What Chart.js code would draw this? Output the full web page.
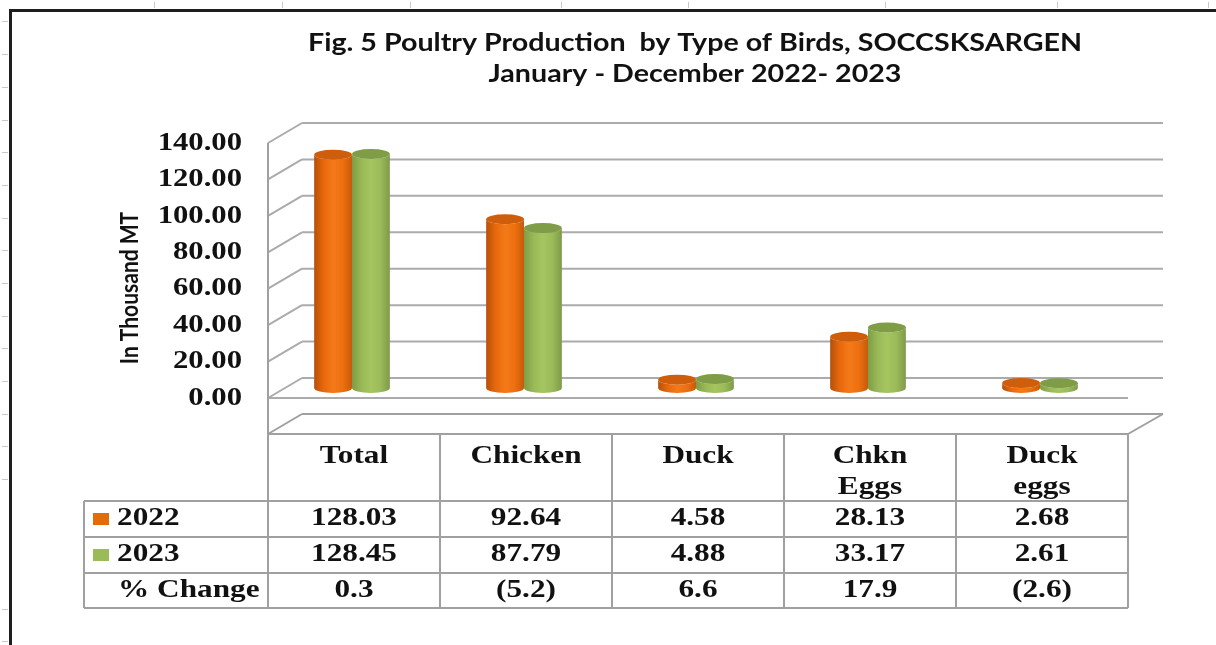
<!DOCTYPE html>
<html>
<head>
<meta charset="utf-8">
<title>Poultry Production by Type of Birds</title>
<script src="https://cdn.jsdelivr.net/npm/chart.js@4.4.1/dist/chart.umd.min.js"></script>
<style>
  body { margin: 0; background: #fff; }
  #chart { display: block; }
</style>
</head>
<body>
<canvas id="chart" width="1216" height="645"></canvas>
<script>
// data
const categories = ['Total', 'Chicken', 'Duck', ['Chkn', 'Eggs'], ['Duck', 'eggs']];
const prod2022 = [128.03, 92.64, 4.58, 28.13, 2.68];
const prod2023 = [128.45, 87.79, 4.88, 33.17, 2.61];
const pctChange = ['0.3', '(5.2)', '6.6', '17.9', '(2.6)'];
const seriesNames = ['2022', '2023'];
const changeLabel = '% Change';
const yTicks = [0, 20, 40, 60, 80, 100, 120, 140];
const titleLines = ['Fig. 5 Poultry Production  by Type of Birds, SOCCSKSARGEN', 'January - December 2022- 2023'];
const yTitle = 'In Thousand MT';

const looks = [
    { stops: ['#b4500a', '#e8680c', '#f47a18', '#ee7010', '#c65b0a'], cap: '#cf5e0c', key: '#e36c0a' },
    { stops: ['#7e9c46', '#98b956', '#a4c560', '#9bbb59', '#7f9a48'], cap: '#7f9c47', key: '#9bbb59' }
];

const SERIF = '"Liberation Serif", "Times New Roman", serif';

function txt(ctx, s, x, y, font, align, sx) {
    ctx.save();
    ctx.font = font;
    ctx.textAlign = align;
    ctx.textBaseline = 'middle';
    ctx.fillStyle = '#111';
    ctx.translate(x, y);
    ctx.scale(sx, 1);
    ctx.fillText(s, 0, 0);
    ctx.restore();
}

function line(ctx, x1, y1, x2, y2) {
    ctx.beginPath();
    ctx.moveTo(x1, y1);
    ctx.lineTo(x2, y2);
    ctx.stroke();
}

function cylinder(ctx, x, top, base, w, look) {
    const rx = w / 2, ry = 5;
    const g = ctx.createLinearGradient(x - rx, 0, x + rx, 0);
    look.stops.forEach((c, i) => g.addColorStop(i / (look.stops.length - 1), c));
    ctx.beginPath();
    ctx.moveTo(x - rx, top);
    ctx.lineTo(x - rx, base);
    ctx.ellipse(x, base, rx, ry, 0, Math.PI, 0, true);
    ctx.lineTo(x + rx, top);
    ctx.ellipse(x, top, rx, ry, 0, 0, Math.PI, false);
    ctx.closePath();
    ctx.fillStyle = g;
    ctx.fill();
    ctx.beginPath();
    ctx.ellipse(x, top, rx, ry, 0, 0, Math.PI * 2);
    ctx.fillStyle = look.cap;
    ctx.fill();
}

const deco = {
    id: 'deco',
    beforeDatasetsDraw() { return false; },
    afterDraw(chart) {
        const ctx = chart.ctx;
        const xs = chart.scales.x, ys = chart.scales.y;

        // sheet frame + ruler ticks
        ctx.save();
        ctx.strokeStyle = '#c8c8c8';
        ctx.lineWidth = 1;
        [154, 282, 410, 561, 688, 885, 1057, 1208].forEach(x => line(ctx, x + 0.5, 2, x + 0.5, 8));
        [21, 54, 87, 120, 152, 185, 218, 250, 283, 316, 348, 381, 414, 446, 479, 609, 641].forEach(y => line(ctx, 2, y + 0.5, 8, y + 0.5));
        ctx.strokeStyle = '#1e1e1e';
        ctx.lineWidth = 3;
        ctx.beginPath();
        ctx.moveTo(10.5, 645);
        ctx.lineTo(10.5, 10.5);
        ctx.lineTo(1216, 10.5);
        ctx.stroke();
        ctx.restore();

        // titles
        ctx.save();
        ctx.font = 'bold 25px Lato';
        const sx = 774 / ctx.measureText(titleLines[0]).width;
        ctx.restore();
        txt(ctx, titleLines[0], 695, 43, 'bold 25px Lato', 'center', sx);
        txt(ctx, titleLines[1], 695, 74, 'bold 25px Lato', 'center', sx);

        ctx.save();
        ctx.translate(130, 288);
        ctx.rotate(-Math.PI / 2);
        ctx.scale(1, 1.15);
        ctx.font = 'bold 21px Lato';
        ctx.textAlign = 'center';
        ctx.textBaseline = 'middle';
        ctx.fillStyle = '#111';
        ctx.fillText(yTitle, 0, 0);
        ctx.restore();

        // 3-D walls and grid
        const n = categories.length;
        const w = (xs.right - xs.left) / n;
        const fl = xs.left + 2, fr = fl + w * n;
        const dx = 34, dy = 20;
        const tableTop = ys.bottom + 46;
        const rows = [tableTop, tableTop + 67, tableTop + 103, tableTop + 139, tableTop + 174];

        ctx.save();
        ctx.strokeStyle = '#ababab';
        ctx.lineWidth = 2;
        yTicks.forEach(v => {
            const yb = ys.getPixelForValue(v) - 10;
            line(ctx, fl + dx, yb, fr + dx + 1, yb);
            line(ctx, fl, yb + dy, fl + dx, yb);
            txt(ctx, v.toFixed(2), 242, yb + dy, 'bold 26px ' + SERIF, 'right', 1.18);
        });
        const y0 = ys.getPixelForValue(0) + 10;
        line(ctx, fl, y0, fr, y0);
        ctx.restore();

        // cylinders
        chart.data.datasets.forEach((ds, i) => {
            chart.getDatasetMeta(i).data.forEach(el => {
                const p = el.getProps(['x', 'y', 'base', 'width'], true);
                cylinder(ctx, p.x, p.y, p.base, p.width, looks[i]);
            });
        });

        // table top plane + data table
        ctx.save();
        ctx.strokeStyle = '#a0a0a0';
        ctx.lineWidth = 2;
        line(ctx, fl + dx, tableTop - dy, fr + dx + 1, tableTop - dy);
        line(ctx, fl, tableTop, fl + dx, tableTop - dy);
        line(ctx, fr, tableTop, fr + dx + 1, tableTop - dy);
        line(ctx, fl, ys.getPixelForValue(yTicks[yTicks.length - 1]) + 10, fl, rows[4]);
        line(ctx, fl, tableTop, fr, tableTop);
        for (let i = 1; i <= n; i++) line(ctx, fl + w * i, tableTop, fl + w * i, rows[4]);
        const kl = 84;
        for (let r = 1; r < rows.length; r++) line(ctx, kl, rows[r], fr, rows[r]);
        line(ctx, kl, rows[1], kl, rows[4]);
        ctx.restore();

        const tf = 'bold 25px ' + SERIF;
        categories.forEach((c, i) => {
            const cx = fl + w * (i + 0.5);
            const parts = Array.isArray(c) ? c : [c];
            parts.forEach((s, k) => txt(ctx, s, cx, tableTop + 23 + k * 31, tf, 'center', 1.25));
            txt(ctx, prod2022[i].toFixed(2), cx, (rows[1] + rows[2]) / 2, tf, 'center', 1.25);
            txt(ctx, prod2023[i].toFixed(2), cx, (rows[2] + rows[3]) / 2, tf, 'center', 1.25);
            txt(ctx, pctChange[i], cx, (rows[3] + rows[4]) / 2, tf, 'center', 1.25);
        });
        seriesNames.forEach((s, r) => {
            const cy = (rows[r + 1] + rows[r + 2]) / 2;
            ctx.fillStyle = looks[r].key;
            ctx.fillRect(93, cy - 6, 16, 12);
            txt(ctx, s, 117, cy, tf, 'left', 1.25);
        });
        txt(ctx, changeLabel, 118, (rows[3] + rows[4]) / 2, tf, 'left', 1.25);
    }
};

new Chart(document.getElementById('chart'), {
    type: 'bar',
    data: {
        labels: categories,
        datasets: [
            { label: seriesNames[0], data: prod2022, backgroundColor: looks[0].key },
            { label: seriesNames[1], data: prod2023, backgroundColor: looks[1].key }
        ]
    },
    options: {
        responsive: false,
        devicePixelRatio: 1,
        animation: false,
        layout: { padding: { left: 266, right: 90, top: 133, bottom: 257 } },
        datasets: { bar: { barPercentage: 1, categoryPercentage: 0.44 } },
        plugins: { legend: { display: false }, title: { display: false }, tooltip: { enabled: false } },
        scales: {
            x: { display: false },
            y: { display: false, min: 0, max: 140, ticks: { stepSize: 20 } }
        }
    },
    plugins: [deco]
});
</script>
</body>
</html>
